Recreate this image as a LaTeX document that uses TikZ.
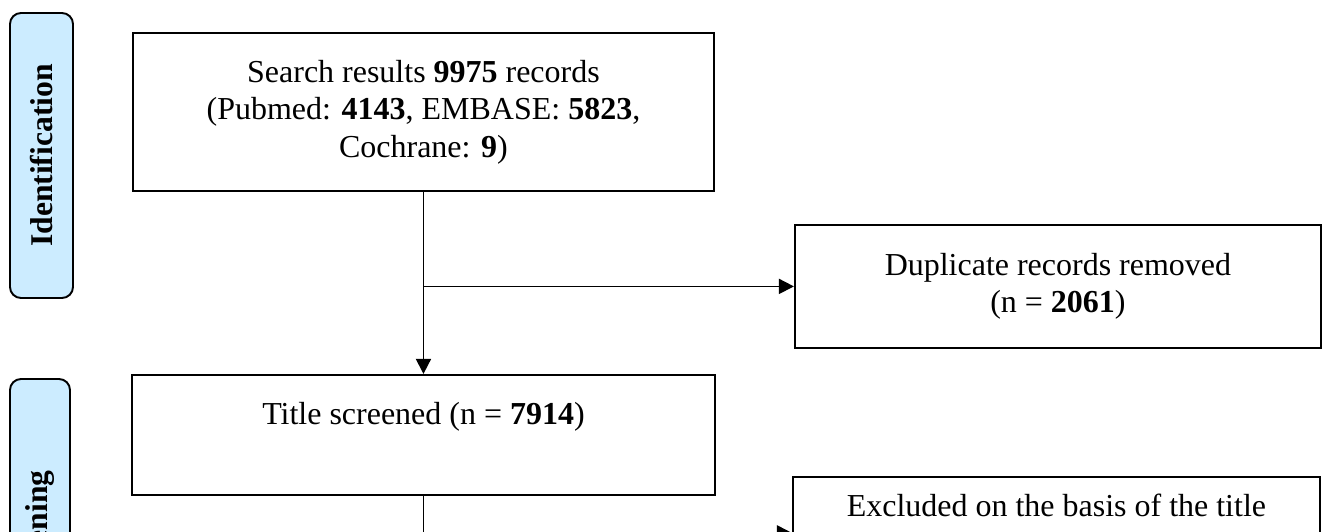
\documentclass[tikz,border=0pt]{standalone}
\usepackage{fontspec}
\setmainfont{Liberation Serif}
\usepackage{tikz}
\usetikzlibrary{arrows.meta,positioning}
\definecolor{phaseblue}{HTML}{CCECFF}

\begin{document}
\begin{tikzpicture}[
  font=\fontsize{18.2}{21.3}\selectfont,
  box/.style={draw,line width=1.1pt,fill=white,align=center},
  phase/.style={draw,line width=1.1pt,fill=phaseblue,rounded corners=0.22cm,rotate=90,inner sep=0pt,font=\fontsize{18}{21}\selectfont\bfseries},
  flow/.style={-{Triangle[length=0.3cm,width=0.3cm]},line width=1pt}
]
\path[use as bounding box,clip] (0,0) rectangle (26.54,-10.62);
\node[phase,minimum width=5.7cm,minimum height=1.26cm] (ident) at (0.83,-3.11) {Identification};
\node[phase,minimum width=6.32cm,minimum height=1.2cm] (screen) at (0.8,-10.74) {Screening};
\node[box,minimum width=11.62cm,minimum height=3.16cm,anchor=north west] (search) at (2.64,-0.64) {Search results \textbf{9975} records\\(Pubmed: \textbf{4143}, EMBASE: \textbf{5823},\\Cochrane: \textbf{9})};
\node[box,below=3.64cm of search,minimum width=11.66cm,text height=0.9cm,text depth=1.3cm,inner ysep=0.1cm] (title) {Title screened (n = \textbf{7914})};
\node[box,below right=0.64cm and 1.58cm of search,minimum width=10.52cm,minimum height=2.46cm] (dup) {Duplicate records removed\\(n = \textbf{2061})};
\node[box,below right=-0.4cm and 1.52cm of title,minimum width=10.54cm,text height=0.7cm,text depth=1.5cm,inner ysep=0.1cm] (excl) {Excluded on the basis of the title};
\draw[flow] (search.south) -- (search.south |- title.north);
\draw[flow] (search.south |- dup.west) -- (dup.west);
\draw[flow] (title.south) |- ([yshift=-1.14cm]excl.north west);
\end{tikzpicture}
\end{document}
